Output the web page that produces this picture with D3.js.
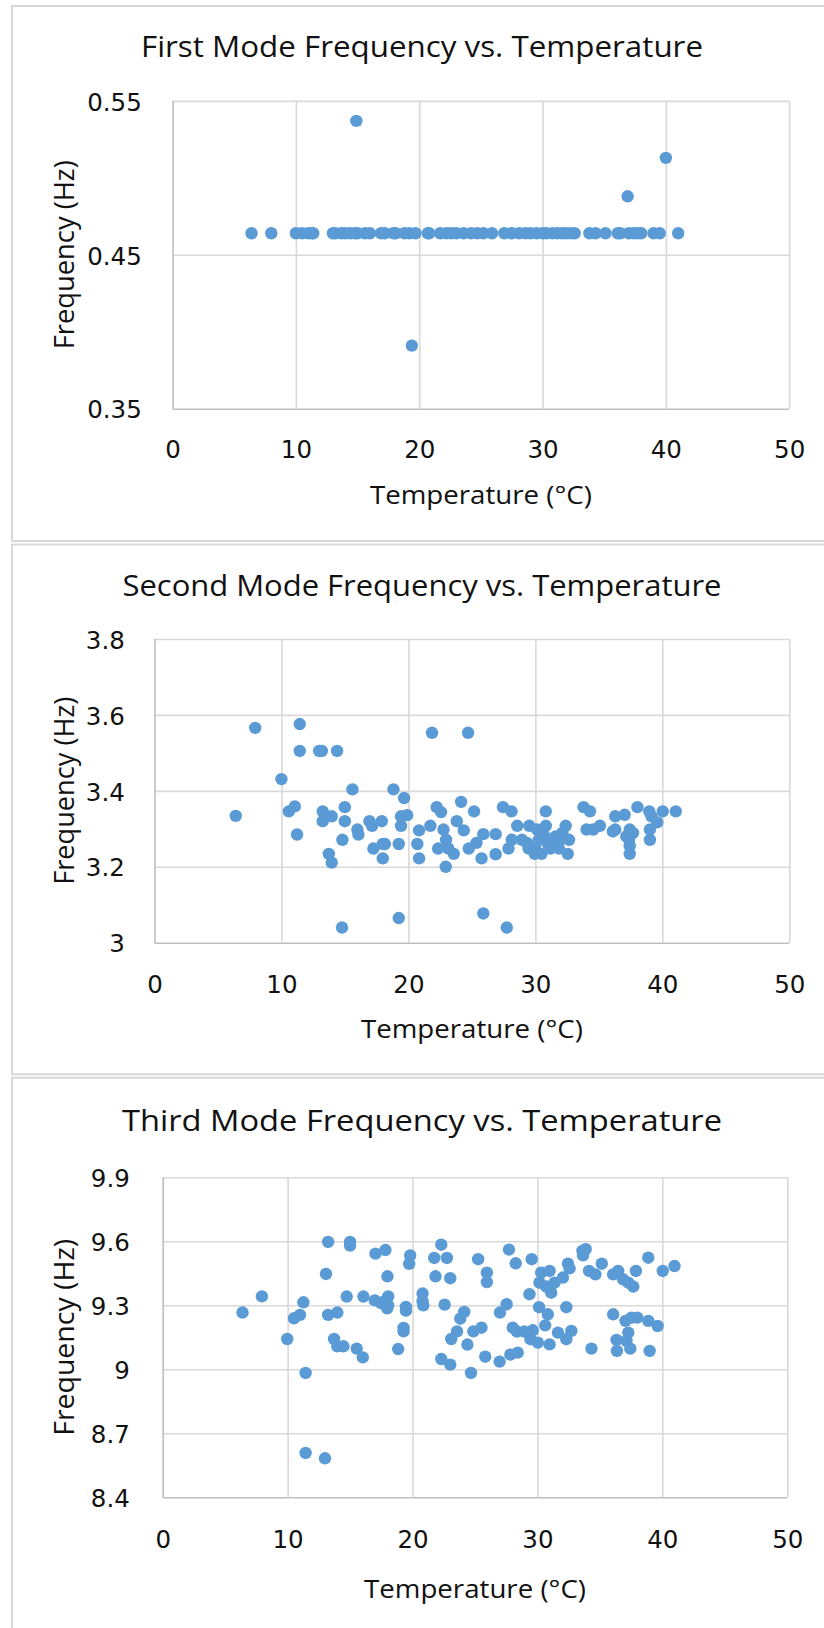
<!DOCTYPE html>
<html><head><meta charset="utf-8">
<script src="https://cdn.jsdelivr.net/npm/d3@7"></script>
<style>body{margin:0;background:#fff} svg{display:block}</style>
</head><body>
<svg id="c" width="824" height="1628"></svg>
<script>
// ---------- data ----------
const xTicks = [0, 10, 20, 30, 40, 50];
const titles = [
  "First Mode Frequency vs. Temperature",
  "Second Mode Frequency vs. Temperature",
  "Third Mode Frequency vs. Temperature"
];
const xTitle = "Temperature (°C)";
const yTitle = "Frequency (Hz)";

const yTicks1 = [0.35, 0.45, 0.55];
const yTicks2 = [3, 3.2, 3.4, 3.6, 3.8];
const yTicks3 = [8.4, 8.7, 9, 9.3, 9.6, 9.9];

const temp1 = [6.4, 8.0, 10.0, 10.5, 11.0, 11.3, 11.4, 13.0, 13.2, 13.7, 14.0, 14.4, 14.8, 15.0, 15.6, 16.0,
  16.9, 17.2, 17.9, 18.1, 18.8, 19.2, 19.7, 20.7, 20.8, 21.7, 22.2, 22.6, 23.0, 23.6, 24.2, 24.7, 25.2,
  25.9, 26.9, 27.5, 28.1, 28.6, 29.0, 29.5, 30.0, 30.3, 30.8, 31.2, 31.6, 31.9, 32.3, 32.6, 33.8, 34.3,
  35.1, 36.1, 36.3, 37.0, 37.4, 37.7, 38.0, 39.0, 39.5, 41.0,
  14.9, 19.4, 36.9, 40.0];
const freq1 = [0.464, 0.464, 0.464, 0.464, 0.464, 0.464, 0.464, 0.464, 0.464, 0.464, 0.464, 0.464, 0.464, 0.464, 0.464, 0.464,
  0.464, 0.464, 0.464, 0.464, 0.464, 0.464, 0.464, 0.464, 0.464, 0.464, 0.464, 0.464, 0.464, 0.464, 0.464, 0.464, 0.464,
  0.464, 0.464, 0.464, 0.464, 0.464, 0.464, 0.464, 0.464, 0.464, 0.464, 0.464, 0.464, 0.464, 0.464, 0.464, 0.464, 0.464,
  0.464, 0.464, 0.464, 0.464, 0.464, 0.464, 0.464, 0.464, 0.464, 0.464,
  0.537, 0.391, 0.488, 0.513];

const temp2 = [7.93, 11.44, 11.44, 12.97, 13.18, 14.38, 10.0, 6.40, 15.59, 18.82, 19.66, 21.86, 24.7, 11.05, 10.58,
  11.23, 13.25, 13.25, 13.96, 14.99, 14.99, 14.80, 13.73, 13.96, 15.98, 16.06, 16.93, 17.14, 17.9, 17.24, 17.98,
  18.14, 17.98, 19.24, 19.42, 19.9, 19.42, 20.7, 20.84, 20.84, 21.73, 22.23, 22.57, 22.76, 22.97, 22.34, 23.15,
  23.57, 22.94, 24.15, 23.81, 24.36, 24.75, 14.77, 19.24,
  25.17, 25.36, 25.9, 26.87, 25.76, 26.87, 27.45, 28.12, 27.88, 28.14, 28.57, 29.52, 28.94, 29.47, 30.82, 30.13,
  30.82, 30.27, 30.0, 30.48, 29.95, 31.19, 31.59, 31.8, 32.39, 32.65, 32.55, 31.86, 32.12, 30.93, 30.66, 29.34,
  33.8, 34.3, 34.03, 34.56, 35.09, 36.29, 37.03, 36.29, 36.1, 37.43, 37.38, 37.43, 37.43, 37.16, 37.69, 38.04,
  38.97, 39.15, 39.6, 40.03, 39.02, 39.02, 41.06, 25.9, 27.75];
const freq2 = [3.566, 3.576, 3.505, 3.505, 3.505, 3.505, 3.431, 3.334, 3.404, 3.404, 3.381, 3.553, 3.553, 3.359, 3.346,
  3.285, 3.346, 3.320, 3.333, 3.357, 3.320, 3.271, 3.234, 3.211, 3.298, 3.285, 3.320, 3.308, 3.320, 3.248, 3.260,
  3.260, 3.222, 3.260, 3.333, 3.336, 3.308, 3.260, 3.296, 3.222, 3.308, 3.357, 3.344, 3.298, 3.271, 3.248, 3.248,
  3.234, 3.200, 3.371, 3.320, 3.296, 3.248, 3.040, 3.065,
  3.346, 3.263, 3.286, 3.286, 3.222, 3.233, 3.357, 3.346, 3.248, 3.271, 3.308, 3.308, 3.271, 3.248, 3.346, 3.298,
  3.308, 3.271, 3.248, 3.234, 3.234, 3.248, 3.280, 3.263, 3.308, 3.271, 3.234, 3.248, 3.289, 3.263, 3.284, 3.263,
  3.357, 3.346, 3.298, 3.298, 3.308, 3.333, 3.337, 3.298, 3.293, 3.298, 3.271, 3.255, 3.234, 3.280, 3.289, 3.357,
  3.346, 3.333, 3.317, 3.346, 3.298, 3.271, 3.346, 3.077, 3.040];

const temp3 = [6.39, 7.94, 9.97, 11.26, 10.99, 10.51, 11.44, 11.44, 12.99, 13.24, 13.07, 15.0, 15.0, 13.24, 13.98,
  13.72, 13.98, 14.47, 14.73, 16.07, 15.53, 16.02, 17.03, 17.83, 16.98, 17.46, 18.05, 18.05, 17.97, 17.78, 17.99,
  19.81, 19.73, 19.47, 19.47, 19.28, 19.28, 18.85, 20.8, 20.8, 20.86, 21.74, 22.75, 22.3, 21.84, 23.02, 22.57,
  24.14, 23.82, 23.56, 23.1, 24.39, 22.3, 23.02, 24.68, 24.87,
  25.25, 25.95, 25.95, 25.52, 25.82, 27.72, 28.26, 29.54, 27.53, 27.0, 26.97, 27.83, 28.42, 28.02, 28.36, 28.95,
  29.62, 29.36, 30.13, 30.83, 30.62, 29.44, 30.03, 30.97, 30.3, 30.97, 30.16, 30.7, 31.1, 31.37, 32.04, 32.31,
  32.44, 32.57, 31.64, 32.31, 32.71, 33.6, 33.86, 33.65, 34.13, 34.64, 35.15, 34.32, 36.06, 36.46, 36.86, 37.27,
  37.67, 37.88, 38.87, 40.03, 40.97, 36.06, 37.05, 37.53, 37.99, 38.87, 39.62, 37.27, 36.33, 37.13, 36.36, 37.43, 38.98];
const freq3 = [9.266, 9.342, 9.142, 9.314, 9.255, 9.239, 8.983, 8.608, 8.583, 9.597, 9.447, 9.597, 9.580, 9.255, 9.266,
  9.142, 9.108, 9.108, 9.341, 9.341, 9.097, 9.056, 9.542, 9.559, 9.323, 9.311, 9.342, 9.300, 9.286, 9.319, 9.436,
  9.534, 9.494, 9.292, 9.275, 9.194, 9.178, 9.095, 9.355, 9.319, 9.300, 9.522, 9.522, 9.584, 9.436, 9.427, 9.303,
  9.269, 9.237, 9.178, 9.142, 9.116, 9.048, 9.022, 8.983, 9.178,
  9.516, 9.453, 9.409, 9.195, 9.059, 9.561, 9.497, 9.516, 9.305, 9.266, 9.036, 9.069, 9.078, 9.195, 9.177, 9.177,
  9.183, 9.352, 9.291, 9.258, 9.206, 9.141, 9.125, 9.117, 9.453, 9.461, 9.406, 9.388, 9.359, 9.406, 9.430, 9.291,
  9.495, 9.473, 9.172, 9.141, 9.180, 9.555, 9.563, 9.534, 9.461, 9.445, 9.495, 9.097, 9.445, 9.461, 9.422, 9.406,
  9.388, 9.461, 9.523, 9.461, 9.484, 9.258, 9.227, 9.242, 9.242, 9.227, 9.203, 9.172, 9.138, 9.133, 9.086, 9.097, 9.086];

// ---------- layout ----------
const layouts = [
  {boxT: 6,      boxB: 541,    l: 172.6, r: 789.2, t: 100.9, b: 408.7, titleY: 56.8,   titleW: 562, yTickR: 141.8, xTickY: 458.5,  xTitleY: 504,    yTitleW: 189},
  {boxT: 544.5,  boxB: 1074.3, l: 154.5, r: 789.3, t: 639,   b: 942.7, titleY: 595.8,  titleW: 599, yTickR: 124.8, xTickY: 992.8,  xTitleY: 1037.5, yTitleW: 188},
  {boxT: 1077.7, boxB: 1700,   l: 162.7, r: 787.3, t: 1177.3,b: 1497.3,titleY: 1131.2, titleW: 600, yTickR: 129.8, xTickY: 1548.3, xTitleY: 1598,   yTitleW: 197}
];

const svg = d3.select("#c");
const FONT = "'Open Sans', 'DejaVu Sans', sans-serif";
const TICKFONT = "'DejaVu Sans', sans-serif";

function drawChart(temps, freqs, yTicks, title, L) {
  const g = svg.append("g");
  g.append("rect").attr("x", 12).attr("y", L.boxT).attr("width", 840).attr("height", L.boxB - L.boxT)
    .attr("fill", "#fff").attr("stroke", "#d9d9d9").attr("stroke-width", 2);

  const x = d3.scaleLinear().domain([xTicks[0], xTicks[xTicks.length - 1]]).range([L.l, L.r]);
  const y = d3.scaleLinear().domain([yTicks[0], yTicks[yTicks.length - 1]]).range([L.b, L.t]);

  // vertical grid + x tick labels
  const gx = g.append("g").attr("transform", `translate(0,${L.b})`)
    .call(d3.axisBottom(x).tickValues(xTicks).tickSize(-(L.b - L.t)).tickFormat(d => String(d)));
  gx.select(".domain").remove();
  gx.selectAll(".tick line").attr("stroke", d => d === xTicks[0] ? "#bfbfbf" : "#d9d9d9").attr("stroke-width", 1.6);
  gx.selectAll(".tick text").attr("y", L.xTickY - L.b).attr("dy", null)
    .attr("font-family", TICKFONT).attr("font-size", 24.5).attr("fill", "#111");

  // horizontal grid + y tick labels
  const gy = g.append("g").attr("transform", `translate(${L.l},0)`)
    .call(d3.axisLeft(y).tickValues(yTicks).tickSize(-(L.r - L.l)).tickFormat(d => String(d)));
  gy.select(".domain").remove();
  gy.selectAll(".tick line").attr("stroke", d => d === yTicks[0] ? "#bfbfbf" : "#d9d9d9").attr("stroke-width", 1.6);
  gy.selectAll(".tick text").attr("x", L.yTickR - L.l).attr("dy", null).attr("y", 9.2)
    .attr("text-anchor", "end")
    .attr("font-family", TICKFONT).attr("font-size", 24.5).attr("fill", "#111");
  gx.raise();
  gx.selectAll(".tick").filter(d => d === xTicks[0]).raise();

  // points
  const pts = temps.map((t, i) => ({t, f: freqs[i]}));
  g.append("g").selectAll("circle").data(pts).join("circle")
    .attr("cx", d => x(d.t)).attr("cy", d => y(d.f)).attr("r", 6.2).attr("fill", "#5b9bd5");

  // titles
  g.append("text").attr("x", 422).attr("y", L.titleY).attr("text-anchor", "middle")
    .attr("font-family", FONT).attr("font-size", 29.5).attr("fill", "#111")
    .attr("textLength", L.titleW).attr("lengthAdjust", "spacingAndGlyphs").text(title);
  g.append("text").attr("x", (L.l + L.r) / 2).attr("y", L.xTitleY).attr("text-anchor", "middle")
    .attr("font-family", FONT).attr("font-size", 25.5).attr("fill", "#111")
    .attr("textLength", 222).attr("lengthAdjust", "spacingAndGlyphs").text(xTitle);
  g.append("text").attr("transform", `translate(73.5,${(L.t + L.b) / 2}) rotate(-90)`).attr("text-anchor", "middle")
    .attr("font-family", FONT).attr("font-size", 27).attr("fill", "#111")
    .attr("textLength", L.yTitleW).attr("lengthAdjust", "spacingAndGlyphs").text(yTitle);
}

drawChart(temp1, freq1, yTicks1, titles[0], layouts[0]);
drawChart(temp2, freq2, yTicks2, titles[1], layouts[1]);
drawChart(temp3, freq3, yTicks3, titles[2], layouts[2]);
</script>
</body></html>
